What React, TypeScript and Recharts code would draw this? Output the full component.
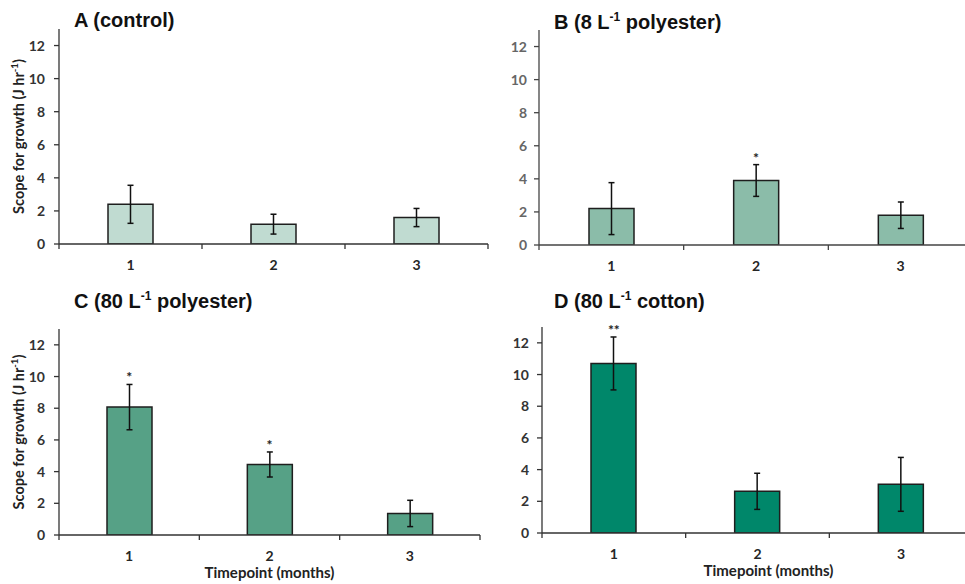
import React from 'react';
import { ComposedChart, Bar, Line, XAxis, YAxis, ErrorBar, LabelList, Label } from 'recharts';

// timepoint categories (months)
const timepoints = ['1', '2', '3'];
const yTicks = [0, 2, 4, 6, 8, 10, 12];

// scope for growth means, +/- error, significance marks
const controlMean = [2.4, 1.2, 1.6];
const controlErr = [1.15, 0.6, 0.55];
const controlSig = ['', '', ''];

const poly8Mean = [2.2, 3.9, 1.8];
const poly8Err = [1.57, 0.96, 0.8];
const poly8Sig = ['', '*', ''];

const poly80Mean = [8.07, 4.45, 1.36];
const poly80Err = [1.43, 0.79, 0.83];
const poly80Sig = ['*', '*', ''];

const cotton80Mean = [10.7, 2.63, 3.07];
const cotton80Err = [1.67, 1.14, 1.7];
const cotton80Sig = ['**', '', ''];

const FONT = 'Lato, "Open Sans", sans-serif';

function buildRows(mean: number[], err: number[], sig: string[]) {
    return timepoints.map((t, i) => ({
        t,
        mean: mean[i],
        err: err[i],
        top: mean[i] + err[i],
        sig: sig[i],
    }));
}

const YLabel = (props: any) => {
    const vb = props.viewBox;
    const cx = 18;
    const cy = vb.y + vb.height / 2;
    return (
        <text
            x={cx}
            y={cy}
            transform={`rotate(-90, ${cx}, ${cy})`}
            textAnchor="middle"
            dominantBaseline="central"
            fontFamily={FONT}
            fontWeight={700}
            fontSize={14.5}
            fill="#222"
        >
            Scope for growth (J hr
            <tspan dy={-4} fontSize={9.5}>-1</tspan>
            <tspan dy={4}>)</tspan>
        </text>
    );
};

// category tick: label in the middle, tick marks on the category edges (Excel style)
const makeXTick = (color: string, axisColor: string) => (props: any) => {
    const { x, y, payload, index } = props;
    const off = payload.offset != null ? payload.offset : props.width / timepoints.length / 2;
    const last = index === timepoints.length - 1;
    return (
        <g>
            <line x1={x - off} y1={y} x2={x - off} y2={y + 5} stroke={axisColor} strokeWidth={1.3} />
            {last && <line x1={x + off} y1={y} x2={x + off} y2={y + 5} stroke={axisColor} strokeWidth={1.3} />}
            <text
                x={x}
                y={y + 20}
                textAnchor="middle"
                dominantBaseline="central"
                fontFamily={FONT}
                fontWeight={700}
                fontSize={14}
                fill={color}
            >
                {payload.value}
            </text>
        </g>
    );
};

interface PanelProps {
    rows: any[];
    color: string;
    left: number;
    top: number;
    width: number;
    height: number;
    margin: { top: number; right: number; bottom: number; left: number };
    yWidth: number;
    yTickMargin: number;
    yTickColor: string;
    axisColor: string;
    showYLabel?: boolean;
    showXLabel?: boolean;
    xLabelDx?: number;
}

function Panel(p: PanelProps) {
    const tickStyle = { fontFamily: FONT, fontWeight: 700, fontSize: 14, fill: p.yTickColor };
    return (
        <div style={{ position: 'absolute', left: p.left, top: p.top }}>
            <ComposedChart width={p.width} height={p.height} data={p.rows} margin={p.margin}>
                <XAxis
                    dataKey="t"
                    height={1}
                    tickLine={false}
                    tickSize={0}
                    tickMargin={0}
                    axisLine={{ stroke: p.axisColor, strokeWidth: 1.3 }}
                    tick={makeXTick('#262626', p.axisColor)}
                    interval={0}
                >
                    {p.showXLabel && (
                        <Label
                            content={(lp: any) => {
                                const vb = lp.viewBox;
                                return (
                                    <text
                                        x={vb.x + vb.width / 2 + (p.xLabelDx || 0)}
                                        y={vb.y + 37}
                                        textAnchor="middle"
                                        dominantBaseline="central"
                                        fontFamily={FONT}
                                        fontWeight={700}
                                        fontSize={15}
                                        fill="#222"
                                    >
                                        Timepoint (months)
                                    </text>
                                );
                            }}
                        />
                    )}
                </XAxis>
                <YAxis
                    domain={[0, 13]}
                    ticks={yTicks}
                    width={p.yWidth}
                    tickSize={5}
                    tickMargin={p.yTickMargin}
                    axisLine={{ stroke: p.axisColor, strokeWidth: 1.3 }}
                    tickLine={{ stroke: p.axisColor, strokeWidth: 1.3 }}
                    tick={tickStyle}
                    allowDataOverflow
                >
                    {p.showYLabel && <Label content={YLabel} />}
                </YAxis>
                <Bar
                    dataKey="mean"
                    fill={p.color}
                    stroke="#1e1e1e"
                    strokeWidth={1.5}
                    barSize={45}
                    isAnimationActive={false}
                >
                    <ErrorBar dataKey="err" direction="y" width={3} stroke="#111" strokeWidth={1.5} />
                </Bar>
                <Line
                    dataKey="top"
                    stroke="none"
                    dot={false}
                    activeDot={false}
                    isAnimationActive={false}
                >
                    <LabelList
                        dataKey="sig"
                        position="top"
                        offset={2}
                        style={{ fontFamily: FONT, fontWeight: 700, fontSize: 14, fill: '#222' }}
                    />
                </Line>
            </ComposedChart>
        </div>
    );
}

const titleStyle: React.CSSProperties = {
    position: 'absolute',
    fontFamily: '"Liberation Sans", Arial, sans-serif',
    fontWeight: 700,
    fontSize: 20,
    lineHeight: '24px',
    color: '#111',
    whiteSpace: 'nowrap',
};

const supStyle: React.CSSProperties = { fontSize: 12, position: 'relative', top: -8 };

export default function App() {
    return (
        <div
            style={{
                position: 'absolute',
                left: 0,
                top: 0,
                width: 965,
                height: 584,
                overflow: 'hidden',
                background: '#fff',
            }}
        >
            <Panel
                rows={buildRows(controlMean, controlErr, controlSig)}
                color="#c0dbd1"
                left={0}
                top={0}
                width={490}
                height={290}
                margin={{ top: 29, right: 2, bottom: 45, left: 0 }}
                yWidth={59}
                yTickMargin={9}
                yTickColor="#333"
                axisColor="#333"
                showYLabel
            />
            <Panel
                rows={buildRows(poly8Mean, poly8Err, poly8Sig)}
                color="#8bbca9"
                left={480}
                top={0}
                width={493}
                height={290}
                margin={{ top: 30, right: 0, bottom: 44, left: 0 }}
                yWidth={59}
                yTickMargin={7}
                yTickColor="#666"
                axisColor="#444"
            />
            <Panel
                rows={buildRows(poly80Mean, poly80Err, poly80Sig)}
                color="#56a186"
                left={0}
                top={290}
                width={490}
                height={294}
                margin={{ top: 39, right: 10, bottom: 48, left: 0 }}
                yWidth={59}
                yTickMargin={9}
                yTickColor="#333"
                axisColor="#333"
                showYLabel
                showXLabel
            />
            <Panel
                rows={buildRows(cotton80Mean, cotton80Err, cotton80Sig)}
                color="#00876a"
                left={480}
                top={290}
                width={493}
                height={294}
                margin={{ top: 37, right: 0, bottom: 50, left: 0 }}
                yWidth={62}
                yTickMargin={8}
                yTickColor="#333"
                axisColor="#333"
                showXLabel
                xLabelDx={11}
            />

            <div style={{ ...titleStyle, left: 74, top: 8 }}>A (control)</div>
            <div style={{ ...titleStyle, left: 554, top: 10 }}>
                B (8 L<span style={supStyle}>-1</span> polyester)
            </div>
            <div style={{ ...titleStyle, left: 74, top: 289 }}>
                C (80 L<span style={supStyle}>-1</span> polyester)
            </div>
            <div style={{ ...titleStyle, left: 554, top: 289 }}>
                D (80 L<span style={supStyle}>-1</span> cotton)
            </div>
        </div>
    );
}
